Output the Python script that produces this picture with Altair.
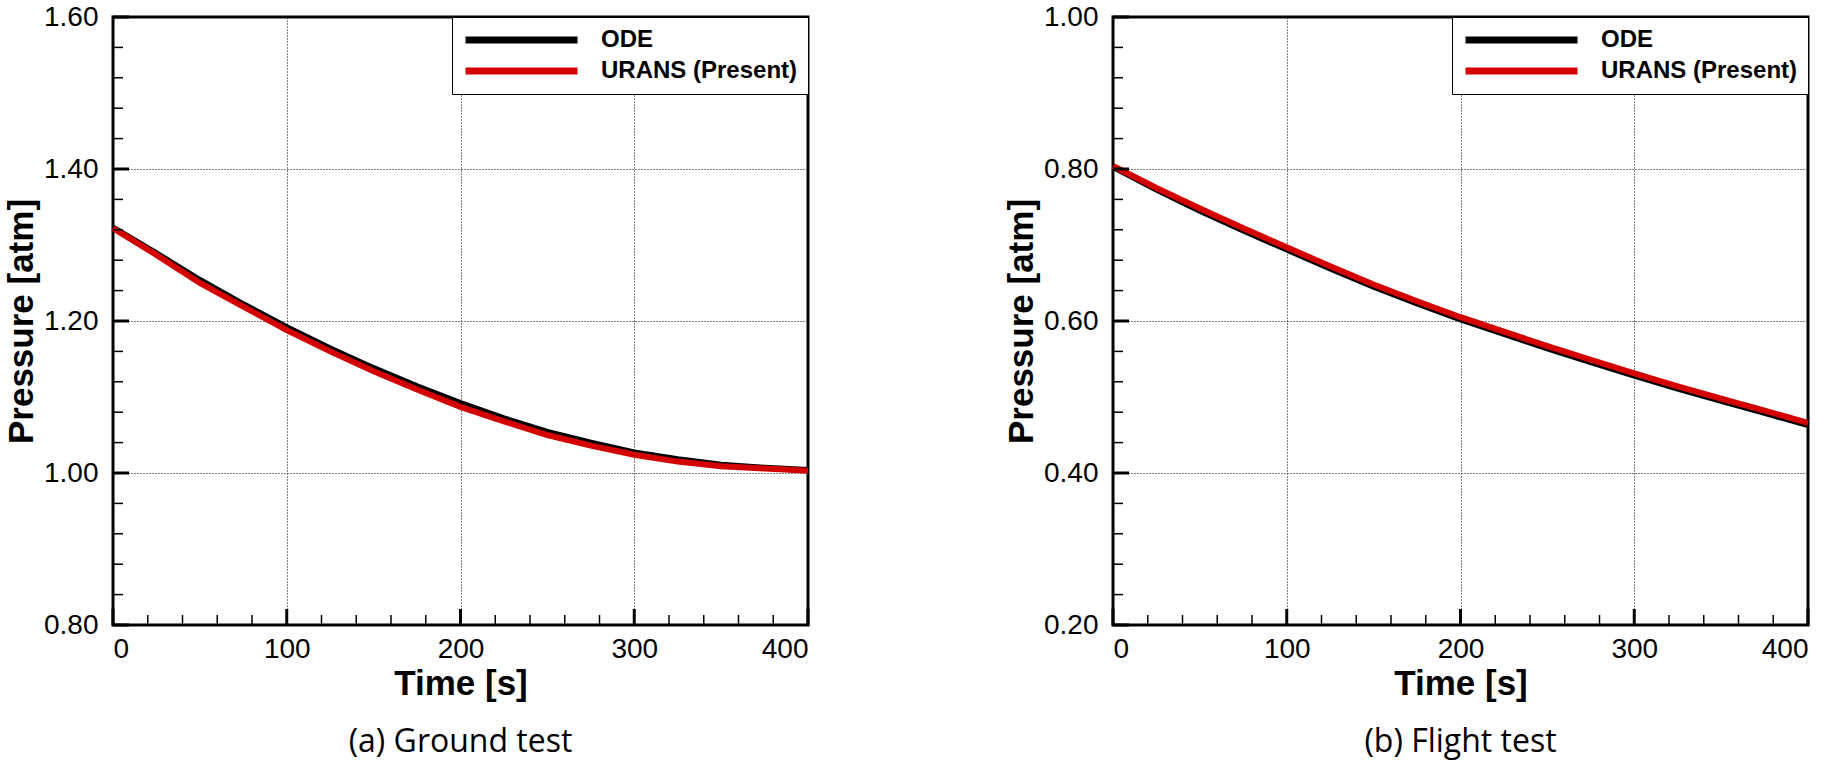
import altair as alt
import pandas as pd

# ---- data ----
time_s = [0, 25, 50, 75, 100, 125, 150, 175, 200, 225, 250, 275, 300, 325, 350, 375, 400]

ground_ode = [1.323, 1.289, 1.254, 1.222, 1.192, 1.164, 1.138, 1.114, 1.092, 1.072, 1.054, 1.040, 1.027, 1.018, 1.011, 1.007, 1.004]
ground_urans = [1.322, 1.287, 1.250, 1.219, 1.188, 1.160, 1.134, 1.110, 1.087, 1.068, 1.050, 1.036, 1.024, 1.015, 1.009, 1.006, 1.003]

flight_ode = [0.803, 0.773, 0.745, 0.719, 0.694, 0.669, 0.645, 0.623, 0.602, 0.583, 0.564, 0.546, 0.528, 0.511, 0.495, 0.479, 0.463]
flight_urans = [0.804, 0.775, 0.748, 0.722, 0.697, 0.672, 0.648, 0.626, 0.605, 0.586, 0.567, 0.549, 0.531, 0.514, 0.498, 0.482, 0.466]

series_names = ["ODE", "URANS (Present)"]
series_colors = ["#000000", "#d40000"]

x_major = [0, 100, 200, 300, 400]
x_minor = [20, 40, 60, 80, 120, 140, 160, 180, 220, 240, 260, 280, 320, 340, 360, 380]

ground_y_major = [0.80, 1.00, 1.20, 1.40, 1.60]
ground_y_minor = [0.84, 0.88, 0.92, 0.96, 1.04, 1.08, 1.12, 1.16, 1.24, 1.28, 1.32, 1.36, 1.44, 1.48, 1.52, 1.56]
flight_y_major = [0.20, 0.40, 0.60, 0.80, 1.00]
flight_y_minor = [0.24, 0.28, 0.32, 0.36, 0.44, 0.48, 0.52, 0.56, 0.64, 0.68, 0.72, 0.76, 0.84, 0.88, 0.92, 0.96]

captions = ["(a) Ground test", "(b) Flight test"]

W = 695
H = 608
AXFONT = "Liberation Sans"


def panel(ode, urans, y_major, y_minor, caption):
    ymin, ymax = y_major[0], y_major[-1]
    d_ode = pd.DataFrame({"t": time_s, "p": ode, "s": series_names[0]})
    d_ur = pd.DataFrame({"t": time_s, "p": urans, "s": series_names[1]})

    xs = alt.Scale(domain=[0, 400], nice=False, zero=False)
    ys = alt.Scale(domain=[ymin, ymax], nice=False, zero=False)
    color = alt.Color(
        "s:N",
        scale=alt.Scale(domain=series_names, range=series_colors),
        legend=alt.Legend(
            title=None,
            orient="top-right",
            offset=0,
            fillColor="white",
            strokeColor="black",
            padding=10,
            symbolType="stroke",
            symbolSize=12544,
            symbolStrokeWidth=7,
            clipHeight=26,
            labelFont=AXFONT,
            labelFontWeight="bold",
            labelFontSize=24,
            labelColor="black",
            labelOffset=20,
            labelLimit=400,
            rowPadding=5,
        ),
    )

    xaxis = alt.Axis(
        values=x_major, format="d", title="Time [s]", ticks=False, domain=False,
        grid=True, gridDash=[1, 2], gridColor="#000000", gridWidth=1,
        labelFont=AXFONT, labelFontSize=28, labelColor="black", labelPadding=10,
        titleFont=AXFONT, titleFontSize=35, titleFontWeight="bold", titleColor="black",
        titlePadding=3,
    )
    yaxis = alt.Axis(
        values=y_major, format=".2f", title="Pressure [atm]", ticks=False, domain=False,
        grid=True, gridDash=[1, 2], gridColor="#000000", gridWidth=1,
        labelFont=AXFONT, labelFontSize=28, labelColor="black", labelPadding=15,
        titleFont=AXFONT, titleFontSize=35, titleFontWeight="bold", titleColor="black",
        titlePadding=4,
    )

    base_line = alt.Chart(d_ode).mark_line(strokeWidth=6).encode(
        x=alt.X("t:Q", scale=xs, axis=xaxis),
        y=alt.Y("p:Q", scale=ys, axis=yaxis),
        color=color,
    )
    red_line = alt.Chart(d_ur).mark_line(strokeWidth=6).encode(
        x=alt.X("t:Q", scale=xs), y=alt.Y("p:Q", scale=ys), color=color,
    )

    # inward axis ticks
    xmaj = alt.Chart(pd.DataFrame({"t": x_major})).mark_rule(color="black", strokeWidth=3).encode(
        x=alt.X("t:Q", scale=xs), y=alt.value(H), y2=alt.value(H - 16))
    xmin_ = alt.Chart(pd.DataFrame({"t": x_minor})).mark_rule(color="black", strokeWidth=1.5).encode(
        x=alt.X("t:Q", scale=xs), y=alt.value(H), y2=alt.value(H - 10))
    ymaj = alt.Chart(pd.DataFrame({"p": y_major})).mark_rule(color="black", strokeWidth=3).encode(
        y=alt.Y("p:Q", scale=ys), x=alt.value(0), x2=alt.value(16))
    ymin_r = alt.Chart(pd.DataFrame({"p": y_minor})).mark_rule(color="black", strokeWidth=1.5).encode(
        y=alt.Y("p:Q", scale=ys), x=alt.value(0), x2=alt.value(10))

    return alt.layer(base_line, red_line, xmaj, xmin_, ymaj, ymin_r).properties(
        width=W,
        height=H,
        title=alt.TitleParams(
            text=caption, orient="bottom", anchor="middle", font="Open Sans",
            fontSize=32, fontWeight="normal", color="black", offset=26,
        ),
    )


left = panel(ground_ode, ground_urans, ground_y_major, ground_y_minor, captions[0])
right = panel(flight_ode, flight_urans, flight_y_major, flight_y_minor, captions[1])

chart = (
    alt.hconcat(left, right, spacing=181)
    .resolve_scale(color="independent")
    .resolve_legend(color="independent")
    .properties(padding={"left": 3, "top": 1, "right": 0, "bottom": 0}, background="white")
    .configure_view(stroke="black", strokeWidth=3)
)

chart.save("out.html", embed_options={"renderer": "svg", "actions": False})
